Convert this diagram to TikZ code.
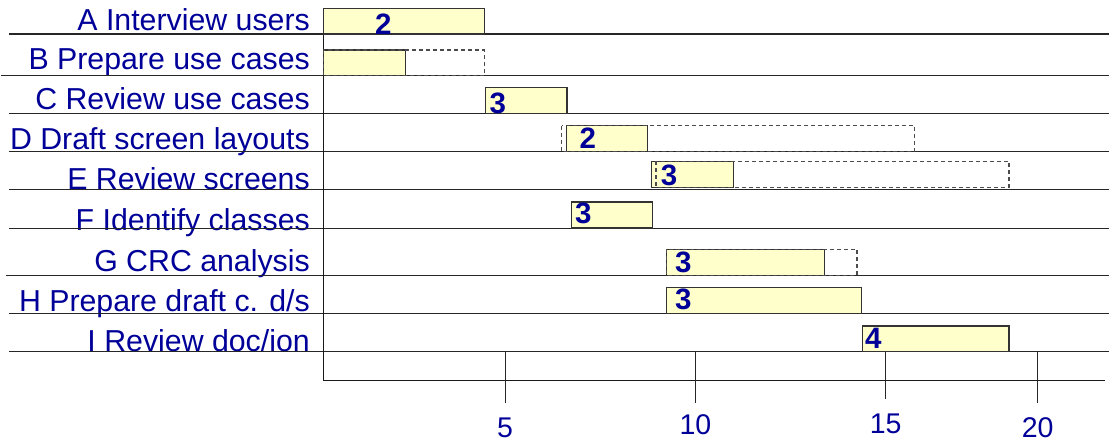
\documentclass[tikz,border=0pt]{standalone}
\usepackage{fontspec}
\setmainfont{Liberation Sans}
\definecolor{lbl}{RGB}{0,0,153}
\definecolor{barfill}{RGB}{255,255,204}
\definecolor{barline}{RGB}{51,51,51}
\begin{document}
\begin{tikzpicture}[x=1pt,y=-1pt,
  rowline/.style={draw=black!85, line width=1.3pt},
  axisline/.style={draw=black!90, line width=1.2pt},
  tickline/.style={draw=black!85, line width=0.9pt},
  bar/.style={draw=barline, fill=barfill, line width=1.2pt},
  slack/.style={draw=black!70, dash pattern=on 4pt off 3pt, line width=1.1pt},
  tasklabel/.style={anchor=base east, inner sep=0pt, text=lbl, font=\fontsize{30.3}{31}\selectfont},
  dur/.style={anchor=base, inner sep=0pt, text=lbl, font=\fontsize{29.5}{30}\selectfont\bfseries},
  ticklabel/.style={anchor=base, inner sep=0pt, text=lbl, font=\fontsize{28.5}{30}\selectfont}]
\useasboundingbox (0,0) rectangle (1109,443);

% task labels
\node[tasklabel] (lA) at (310,31) {A Interview users};
\node[tasklabel] (lB) at (310,70) {B Prepare use cases};
\node[tasklabel] (lC) at (310,109.5) {C Review use cases};
\node[tasklabel] (lD) at (310,150) {D Draft screen layouts};
\node[tasklabel] (lE) at (310,189.5) {E Review screens};
\node[tasklabel] (lF) at (310,231) {F Identify classes};
\node[tasklabel] (lG) at (310,272) {G CRC analysis};
\node[tasklabel] (lH) at (310,311.5) {H Prepare draft c. d/s};
\node[tasklabel] (lI) at (310,352) {I Review doc/ion};

% row lines
\draw[rowline] (9,34) -- (1109,34);
\draw[rowline] (1,75.5) -- (1109,75.5);
\draw[rowline] (9,113.5) -- (1109,113.5);
\draw[rowline] (9,151.7) -- (1109,151.7);
\draw[rowline] (9,189.7) -- (1109,189.7);
\draw[rowline] (9,228.2) -- (1109,228.2);
\draw[rowline] (6,275.5) -- (1109,275.5);
\draw[rowline] (9,313.5) -- (1109,313.5);
\draw[rowline] (9,351.7) -- (1109,351.7);

% axes
\coordinate (o) at (323.7,380.5);
\coordinate (top) at (323.7,34);
\coordinate (xend) at (1105,380.5);
\draw[axisline] (top) -- (o) -- (xend);
\foreach \n/\x/\b in {t5/505/403, t10/695.4/403, t15/885.7/399, t20/1037.6/403}{
  \coordinate (\n a) at (\x,351.7);
  \coordinate (\n b) at (\x,\b);
  \draw[tickline] (\n a) -- (\n b);
}
\node[ticklabel] (n5) at (505,438) {5};
\node[ticklabel] (n10) at (695.4,435) {10};
\node[ticklabel] (n15) at (885.7,434) {15};
\node[ticklabel] (n20) at (1037.6,438) {20};

% bars
\draw[bar] (323.7,8.5) rectangle (484.3,34);
\draw[bar] (323.7,50) rectangle (405.3,75.5);
\draw[slack] (323.7,50) rectangle (484.3,75.5);
\draw[bar] (485.7,87.3) rectangle (567,113.5);
\draw[bar] (566.3,125.7) rectangle (647.7,151.5);
\draw[slack] (561.7,125.7) rectangle (914.3,151.5);
\draw[bar] (651.7,161.5) rectangle (733.3,187.5);
\draw[slack] (656,161.5) rectangle (1009,187.5);
\draw[bar] (571.3,202) rectangle (652.7,228);
\draw[bar] (666.3,249.3) rectangle (824.3,275.3);
\draw[slack] (666.3,249.3) rectangle (857,275.3);
\draw[bar] (666.7,287.7) rectangle (861.7,313.3);
\draw[bar] (862.3,326) rectangle (1009,351.7);

% durations
\node[dur] (dA) at (383.3,35) {2};
\node[dur] (dC) at (497.7,113.5) {3};
\node[dur] (dD) at (587.7,148.3) {2};
\node[dur] (dE) at (669,186) {3};
\node[dur] (dF) at (583.3,223.3) {3};
\node[dur] (dG) at (683.3,272.3) {3};
\node[dur] (dH) at (683.3,310) {3};
\node[dur] (dI) at (873.3,348.3) {4};
\end{tikzpicture}
\end{document}
